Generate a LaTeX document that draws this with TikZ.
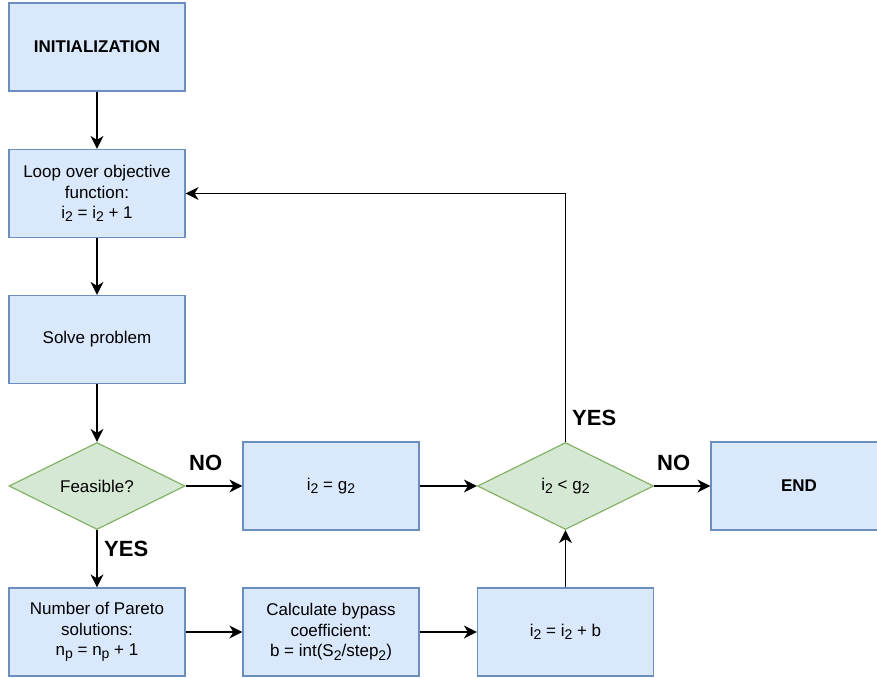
\documentclass[tikz,border=0pt]{standalone}
\usepackage{fontspec}
\setmainfont{Liberation Sans}
\usetikzlibrary{shapes.geometric,arrows.meta}
\definecolor{boxfill}{HTML}{DAE8FC}
\definecolor{boxline}{HTML}{6C8EBF}
\definecolor{decfill}{HTML}{D5E8D4}
\definecolor{decline}{HTML}{82B366}
\newcommand{\sub}[1]{\raisebox{-0.35ex}{\fontsize{14}{14}\selectfont #1}}
\begin{document}
\begin{tikzpicture}[x=1pt,y=-1pt,
    blk/.style={draw=boxline,fill=boxfill,line width=1.2pt,minimum width=176pt,minimum height=88pt,
      inner sep=2pt,align=center,font=\fontsize{17}{20.5}\selectfont},
    dec/.style={diamond,draw=decline,fill=decfill,line width=1.2pt,minimum width=176pt,minimum height=87pt,
      inner sep=0pt,aspect=2,font=\fontsize{17}{20.5}\selectfont},
    lbl/.style={inner sep=0pt,font=\fontsize{22}{26}\selectfont\bfseries},
    arr/.style={line width=1.5pt,-{Stealth[length=13pt,width=13pt,inset=4pt]}}]
    \useasboundingbox (0,0) rectangle (877,677);

    \node[blk](init) at (97,47) {\textbf{INITIALIZATION}};
    \node[blk](loop) at (97,193.5) {Loop over objective\\function:\\i\sub{2} = i\sub{2} + 1};
    \node[blk](solve) at (97,339.5) {Solve problem};
    \node[dec](feas) at (97,486) {Feasible?};
    \node[blk](ieq) at (331,486) {i\sub{2} = g\sub{2}};
    \node[dec](cond) at (565.5,486) {i\sub{2} < g\sub{2}};
    \node[blk](fin) at (799,486) {\textbf{END}};
    \node[blk](pareto) at (97,632) {Number of Pareto\\solutions:\\n\sub{p} = n\sub{p} + 1};
    \node[blk](bypass) at (331,632) {Calculate bypass\\coefficient:\\b = int(S\sub{2}/step\sub{2})};
    \node[blk](incr) at (565.5,632) {i\sub{2} = i\sub{2} + b};

    \foreach \a/\b in {init/loop, loop/solve, solve/feas, feas/pareto} {
      \draw[arr] (\a) -- (\b);
    }
    \foreach \a/\b in {feas/ieq, ieq/cond, cond/fin, pareto/bypass, bypass/incr} {
      \draw[arr] (\a) -- (\b);
    }
    \draw[arr] (incr) -- (cond);
    \draw[arr] (cond.north) |- (loop.east);

    \node[lbl,anchor=west](no1) at (189,463) {NO};
    \node[lbl,anchor=west](no2) at (657,463) {NO};
    \node[lbl,anchor=west](yes1) at (104,549) {YES};
    \node[lbl,anchor=west](yes2) at (572,418) {YES};
  \end{tikzpicture}
\end{document}
